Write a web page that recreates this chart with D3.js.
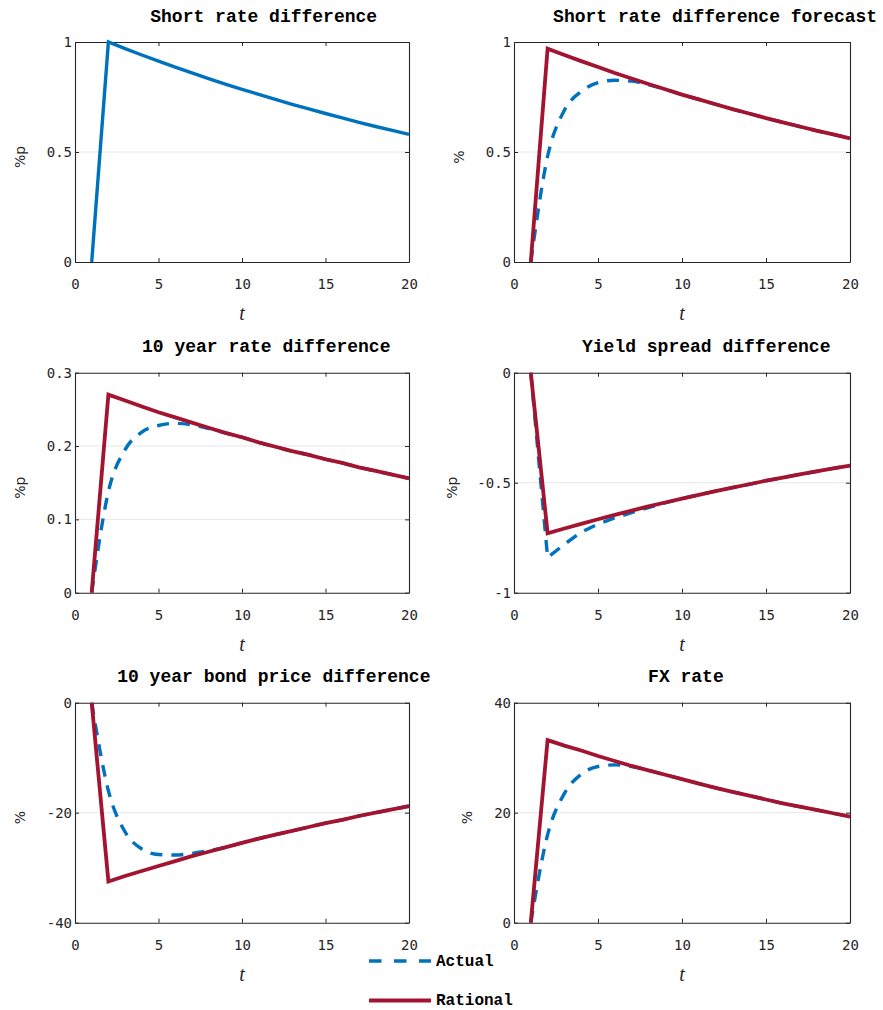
<!DOCTYPE html>
<html>
<head>
<meta charset="utf-8">
<script src="https://cdn.jsdelivr.net/npm/d3@7"></script>
<style>
  body { margin: 0; background: #fff; }
  svg { display: block; }
</style>
</head>
<body>
<svg id="chart" width="883" height="1010"></svg>
<script>
// horizon t = 1..20
var t = [1, 2, 3, 4, 5, 6, 7, 8, 9, 10, 11, 12, 13, 14, 15, 16, 17, 18, 19, 20];

// Short rate difference (single series)
var shortRate = [0, 1.000, 0.970, 0.941, 0.913, 0.886, 0.860, 0.834, 0.809, 0.785,
    0.762, 0.739, 0.717, 0.696, 0.675, 0.655, 0.635, 0.616, 0.598, 0.580];

// Short rate difference forecast
var forecastActual = [0, 0.480, 0.690, 0.775, 0.815, 0.826, 0.822, 0.806, 0.785, 0.761,
    0.739, 0.717, 0.695, 0.675, 0.654, 0.635, 0.616, 0.597, 0.580, 0.562];
var forecastRational = [0, 0.970, 0.941, 0.913, 0.886, 0.859, 0.834, 0.809, 0.785, 0.761,
    0.739, 0.717, 0.695, 0.675, 0.654, 0.635, 0.616, 0.597, 0.580, 0.562];

// 10 year rate difference
var longActual = [0, 0.138, 0.195, 0.219, 0.228, 0.231, 0.229, 0.224, 0.218, 0.212,
    0.205, 0.199, 0.193, 0.188, 0.182, 0.177, 0.171, 0.166, 0.161, 0.156];
var longRational = [0, 0.270, 0.262, 0.254, 0.246, 0.239, 0.232, 0.225, 0.218, 0.212,
    0.205, 0.199, 0.193, 0.188, 0.182, 0.177, 0.171, 0.166, 0.161, 0.156];

// Yield spread difference
var spreadActual = [0, -0.840, -0.780, -0.725, -0.688, -0.660, -0.636, -0.613, -0.592, -0.572,
    -0.555, -0.538, -0.522, -0.507, -0.491, -0.477, -0.462, -0.449, -0.435, -0.422];
var spreadRational = [0, -0.730, -0.708, -0.687, -0.666, -0.646, -0.627, -0.608, -0.590, -0.572,
    -0.555, -0.538, -0.522, -0.507, -0.491, -0.477, -0.462, -0.449, -0.435, -0.422];

// 10 year bond price difference
var bondActual = [0, -16.0, -23.5, -26.6, -27.6, -27.7, -27.4, -26.9, -26.3, -25.5,
    -24.7, -24.0, -23.3, -22.6, -21.9, -21.3, -20.6, -20.0, -19.4, -18.8];
var bondRational = [0, -32.5, -31.5, -30.6, -29.7, -28.8, -27.9, -27.1, -26.3, -25.5,
    -24.7, -24.0, -23.3, -22.6, -21.9, -21.3, -20.6, -20.0, -19.4, -18.8];

// FX rate
var fxActual = [0, 16.0, 23.5, 27.0, 28.4, 28.7, 28.4, 27.7, 26.9, 26.1,
    25.3, 24.5, 23.8, 23.1, 22.4, 21.7, 21.1, 20.5, 19.9, 19.3];
var fxRational = [0, 33.2, 32.2, 31.3, 30.3, 29.4, 28.5, 27.7, 26.9, 26.1,
    25.3, 24.5, 23.8, 23.1, 22.4, 21.7, 21.1, 20.5, 19.9, 19.3];

// tick labels
var xTicks = [0, 5, 10, 15, 20];
var yTicksShort = [0, 0.5, 1];
var yTicksLong = [0, 0.1, 0.2, 0.3];
var yTicksSpread = [-1, -0.5, 0];
var yTicksBond = [-40, -20, 0];
var yTicksFx = [0, 20, 40];

var seriesNames = ['Actual', 'Rational'];

var blue = '#0072BD';
var red = '#A2142F';
var axisColor = '#262626';

var panels = [
    { title: 'Short rate difference', ylabel: '%p', ticks: yTicksShort, actual: shortRate, solidActual: true },
    { title: 'Short rate difference forecast', ylabel: '%', ticks: yTicksShort, actual: forecastActual, rational: forecastRational },
    { title: '10 year rate difference', ylabel: '%p', ticks: yTicksLong, actual: longActual, rational: longRational },
    { title: 'Yield spread difference', ylabel: '%p', ticks: yTicksSpread, actual: spreadActual, rational: spreadRational, sharp: true },
    { title: '10 year bond price difference', ylabel: '%', ticks: yTicksBond, actual: bondActual, rational: bondRational },
    { title: 'FX rate', ylabel: '%', ticks: yTicksFx, actual: fxActual, rational: fxRational }
];

var svg = d3.select('#chart');
svg.append('rect').attr('width', 883).attr('height', 1010).attr('fill', '#fff');

var cols = [{ l: 75, r: 409 }, { l: 514, r: 850 }];
var rowTops = [42, 372.7, 702.7];
var plotH = 220;

var fmt = function (d) { return String(d); };

panels.forEach(function (p, i) {
    var col = cols[i % 2];
    var top = rowTops[Math.floor(i / 2)];
    var w = col.r - col.l;

    var x = d3.scaleLinear().domain([0, 20]).range([0, w]);
    var yDom = d3.extent(p.ticks);
    var y = d3.scaleLinear().domain(yDom).range([plotH, 0]);

    var g = svg.append('g').attr('transform', 'translate(' + col.l + ',' + top + ')');

    // horizontal grid
    g.append('g').selectAll('line').data(p.ticks.slice(1, -1)).enter().append('line')
        .attr('x1', 0).attr('x2', w)
        .attr('y1', function (d) { return y(d); }).attr('y2', function (d) { return y(d); })
        .attr('stroke', '#e6e6e6').attr('stroke-width', 1);

    // axes (box with inward ticks)
    var styleAxis = function (sel) {
        sel.selectAll('path').attr('stroke', axisColor).attr('stroke-width', 1.1);
        sel.selectAll('line').attr('stroke', axisColor).attr('stroke-width', 1);
        sel.selectAll('text').attr('fill', axisColor)
            .style('font-family', '"DejaVu Sans Mono", monospace').style('font-size', '14px');
    };
    g.append('g').attr('transform', 'translate(0,' + plotH + ')')
        .call(d3.axisBottom(x).tickValues(xTicks).tickFormat(fmt).tickSizeInner(-4).tickSizeOuter(0).tickPadding(17))
        .call(styleAxis);
    g.append('g')
        .call(d3.axisTop(x).tickValues(xTicks).tickFormat('').tickSizeInner(-4).tickSizeOuter(0))
        .call(styleAxis);
    g.append('g')
        .call(d3.axisLeft(y).tickValues(p.ticks).tickFormat(fmt).tickSizeInner(-4).tickSizeOuter(0).tickPadding(3))
        .call(styleAxis);
    g.append('g').attr('transform', 'translate(' + w + ',0)')
        .call(d3.axisRight(y).tickValues(p.ticks).tickFormat('').tickSizeInner(-4).tickSizeOuter(0))
        .call(styleAxis);
    g.selectAll('.domain').attr('fill', 'none');

    // data lines
    var lineLinear = d3.line().x(function (d, k) { return x(t[k]); }).y(function (d) { return y(d); });
    var lineSmooth = d3.line().curve(d3.curveMonotoneX)
        .x(function (d, k) { return x(t[k]); }).y(function (d) { return y(d); });

    var actualLine = g.append('path').datum(p.actual)
        .attr('fill', 'none').attr('stroke', blue).attr('stroke-width', 3.4)
        .attr('d', (p.solidActual || p.sharp) ? lineLinear : lineSmooth);
    if (!p.solidActual) actualLine.attr('stroke-dasharray', '12,9');

    if (p.rational) {
        g.append('path').datum(p.rational)
            .attr('fill', 'none').attr('stroke', red).attr('stroke-width', 3.8)
            .attr('stroke-linejoin', 'miter')
            .attr('d', lineLinear);
    }

    // title
    var cx = w / 2;
    g.append('text')
        .attr('x', cx - p.title.length * 4.13 - 5).attr('y', -20.5)
        .attr('text-anchor', 'start')
        .style('font-family', '"Liberation Mono", monospace').style('font-weight', 'bold').style('font-size', '18px')
        .attr('fill', '#000')
        .text(p.title);

    // x label
    g.append('text')
        .attr('x', cx).attr('y', plotH + 58)
        .attr('text-anchor', 'middle')
        .style('font-family', '"Liberation Serif", serif').style('font-style', 'italic').style('font-size', '20px')
        .attr('fill', axisColor)
        .text('t');

    // y label
    var maxChars = d3.max(p.ticks, function (d) { return fmt(d).length; });
    var lx = -(32 + 7.5 * maxChars);
    g.append('text')
        .attr('transform', 'translate(' + lx + ',' + (plotH / 2 + 5) + ') rotate(-90)')
        .attr('dy', '0.35em')
        .attr('text-anchor', 'middle')
        .style('font-family', '"DejaVu Sans", sans-serif').style('font-size', '14px')
        .attr('fill', axisColor)
        .text(p.ylabel);
});

// legend
var legend = svg.append('g');
var legendRows = [
    { name: seriesNames[0], color: blue, dash: '12.5,12.5', y: 961, width: 3.4 },
    { name: seriesNames[1], color: red, dash: null, y: 1000.5, width: 3.8 }
];
legendRows.forEach(function (r) {
    var ln = legend.append('line')
        .attr('x1', 369).attr('x2', 431).attr('y1', r.y).attr('y2', r.y)
        .attr('stroke', r.color).attr('stroke-width', r.width);
    if (r.dash) ln.attr('stroke-dasharray', r.dash);
    legend.append('text')
        .attr('x', 436).attr('y', r.y + 4.5)
        .style('font-family', '"Liberation Mono", monospace').style('font-weight', 'bold').style('font-size', '16px')
        .attr('fill', '#000')
        .text(r.name);
});
</script>
</body>
</html>
